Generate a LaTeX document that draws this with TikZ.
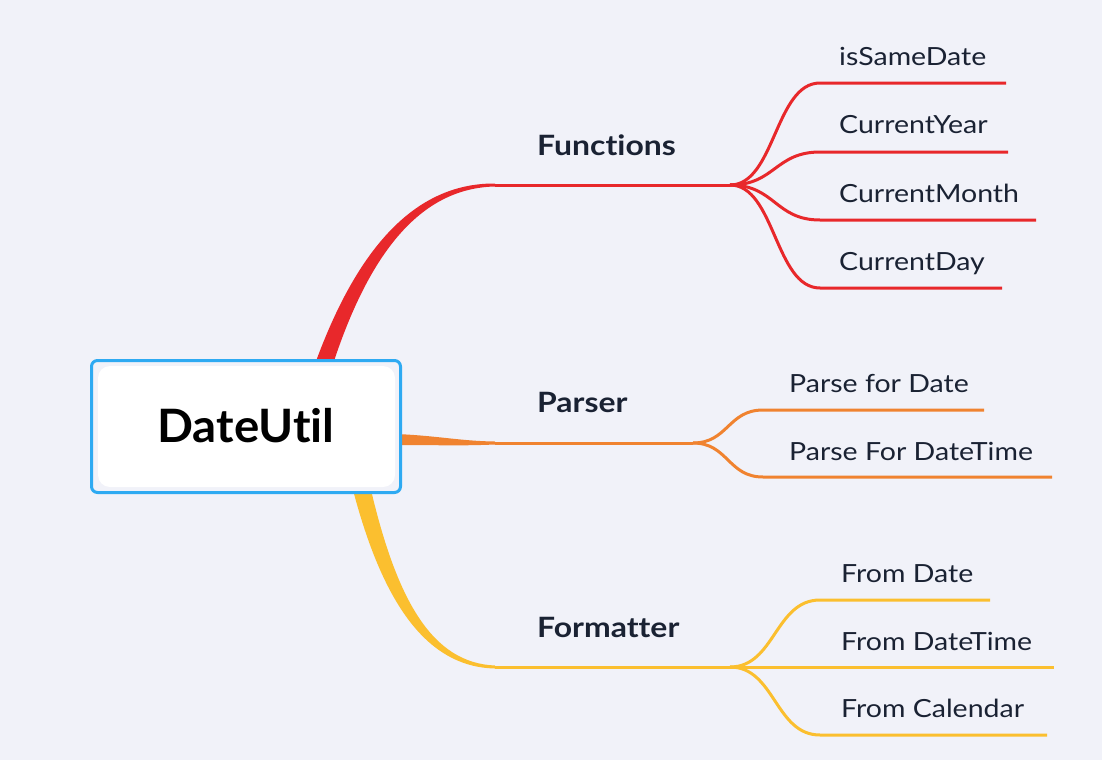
\documentclass[tikz,border=0pt]{standalone}
\usepackage{fontspec}
\setmainfont[Ligatures=NoCommon]{Lato}
\newfontfamily\leaffont[FakeStretch=1.14,Ligatures=NoCommon]{Lato}
\newfontfamily\rootfont[FakeStretch=1.03,Ligatures=NoCommon]{Lato}
\definecolor{bg}{HTML}{F1F2F9}
\definecolor{cred}{HTML}{E8282B}
\definecolor{corange}{HTML}{F08330}
\definecolor{cyellow}{HTML}{FBBF2F}
\definecolor{cblue}{HTML}{2EAAF2}
\definecolor{ctext}{HTML}{1A2233}
\begin{document}
\begin{tikzpicture}[x=1pt,y=-1pt,
  branchline/.style={line width=3pt},
  leaftext/.style={anchor=base west,inner sep=0pt,text=ctext,font=\leaffont\fontsize{25}{30}\selectfont},
  maintext/.style={anchor=base west,inner sep=0pt,text=ctext,font=\leaffont\bfseries\fontsize{28}{34}\selectfont}]
\fill[bg] (0,0) rectangle (1102,760);
\useasboundingbox (0,0) rectangle (1102,760);
% coordinates
\coordinate (fA) at (495,185);
\coordinate (fJ) at (730,185);
\coordinate (pA) at (495,443);
\coordinate (pJ) at (693,443);
\coordinate (mA) at (495,667);
\coordinate (mJ) at (730,667);
\foreach \n/\y/\e in {1/83/1006,2/152/1008,3/220/1036,4/288/1002}{
  \coordinate (fs\n) at (820,\y); \coordinate (fe\n) at (\e,\y);}
\foreach \n/\y/\e in {1/410/984,2/477/1052}{
  \coordinate (ps\n) at (763,\y); \coordinate (pe\n) at (\e,\y);}
\foreach \n/\y/\e in {1/600/990,2/667/1054,3/735/1047}{
  \coordinate (ms\n) at (820,\y); \coordinate (me\n) at (\e,\y);}
% tapered main branches
\fill[cred] (315,364) .. controls (360,240) and (420,183) .. (495,183.5)
  -- (495,186.5) .. controls (425,188) and (372,245) .. (333,364) -- cycle;
\fill[corange] (397,434) .. controls (440,436) and (460,441) .. (495,441.5)
  -- (495,444.5) .. controls (460,446) and (440,445) .. (397,445) -- cycle;
\fill[cyellow] (353,490) .. controls (382,600) and (425,667) .. (495,668.5)
  -- (495,665.5) .. controls (432,663) and (397,600) .. (371,490) -- cycle;
% central box
\node[draw=cblue,line width=3pt,fill=bg,rounded corners=6pt,minimum width=309pt,minimum height=132pt,inner sep=0pt] (root) at (246,426.5) {};
\fill[white,rounded corners=12pt] (98,366) rectangle (395,487);
\node[inner sep=0pt,font=\rootfont\bfseries\fontsize{46}{54}\selectfont,text=black] (rootlbl) at (246,426) {DateUtil};
% functions
\draw[cred,branchline] (fA) -- (fJ);
\foreach \n in {1,2,3,4}{\draw[cred,branchline] (fJ) .. controls (775,185) and (775,0|-fs\n) .. (fs\n) -- (fe\n);}
% parser
\draw[corange,branchline] (pA) -- (pJ);
\foreach \n in {1,2}{\draw[corange,branchline] (pJ) .. controls (728,443) and (728,0|-ps\n) .. (ps\n) -- (pe\n);}
% formatter
\draw[cyellow,branchline] (mA) -- (mJ);
\foreach \n in {1,2,3}{\draw[cyellow,branchline] (mJ) .. controls (775,667) and (775,0|-ms\n) .. (ms\n) -- (me\n);}
% labels
\node[maintext] (functions) at (537,155) {Functions};
\node[maintext] (parser) at (537,412) {Parser};
\node[maintext] (formatter) at (537,637) {Formatter};
\node[leaftext] (f1) at (839,65) {isSameDate};
\node[leaftext] (f2) at (839,133) {CurrentYear};
\node[leaftext] (f3) at (839,202) {CurrentMonth};
\node[leaftext] (f4) at (839,270) {CurrentDay};
\node[leaftext] (p1) at (789,392) {Parse for Date};
\node[leaftext] (p2) at (789,460) {Parse For DateTime};
\node[leaftext] (m1) at (841,582) {From Date};
\node[leaftext] (m2) at (841,650) {From DateTime};
\node[leaftext] (m3) at (841,717) {From Calendar};
\end{tikzpicture}
\end{document}
